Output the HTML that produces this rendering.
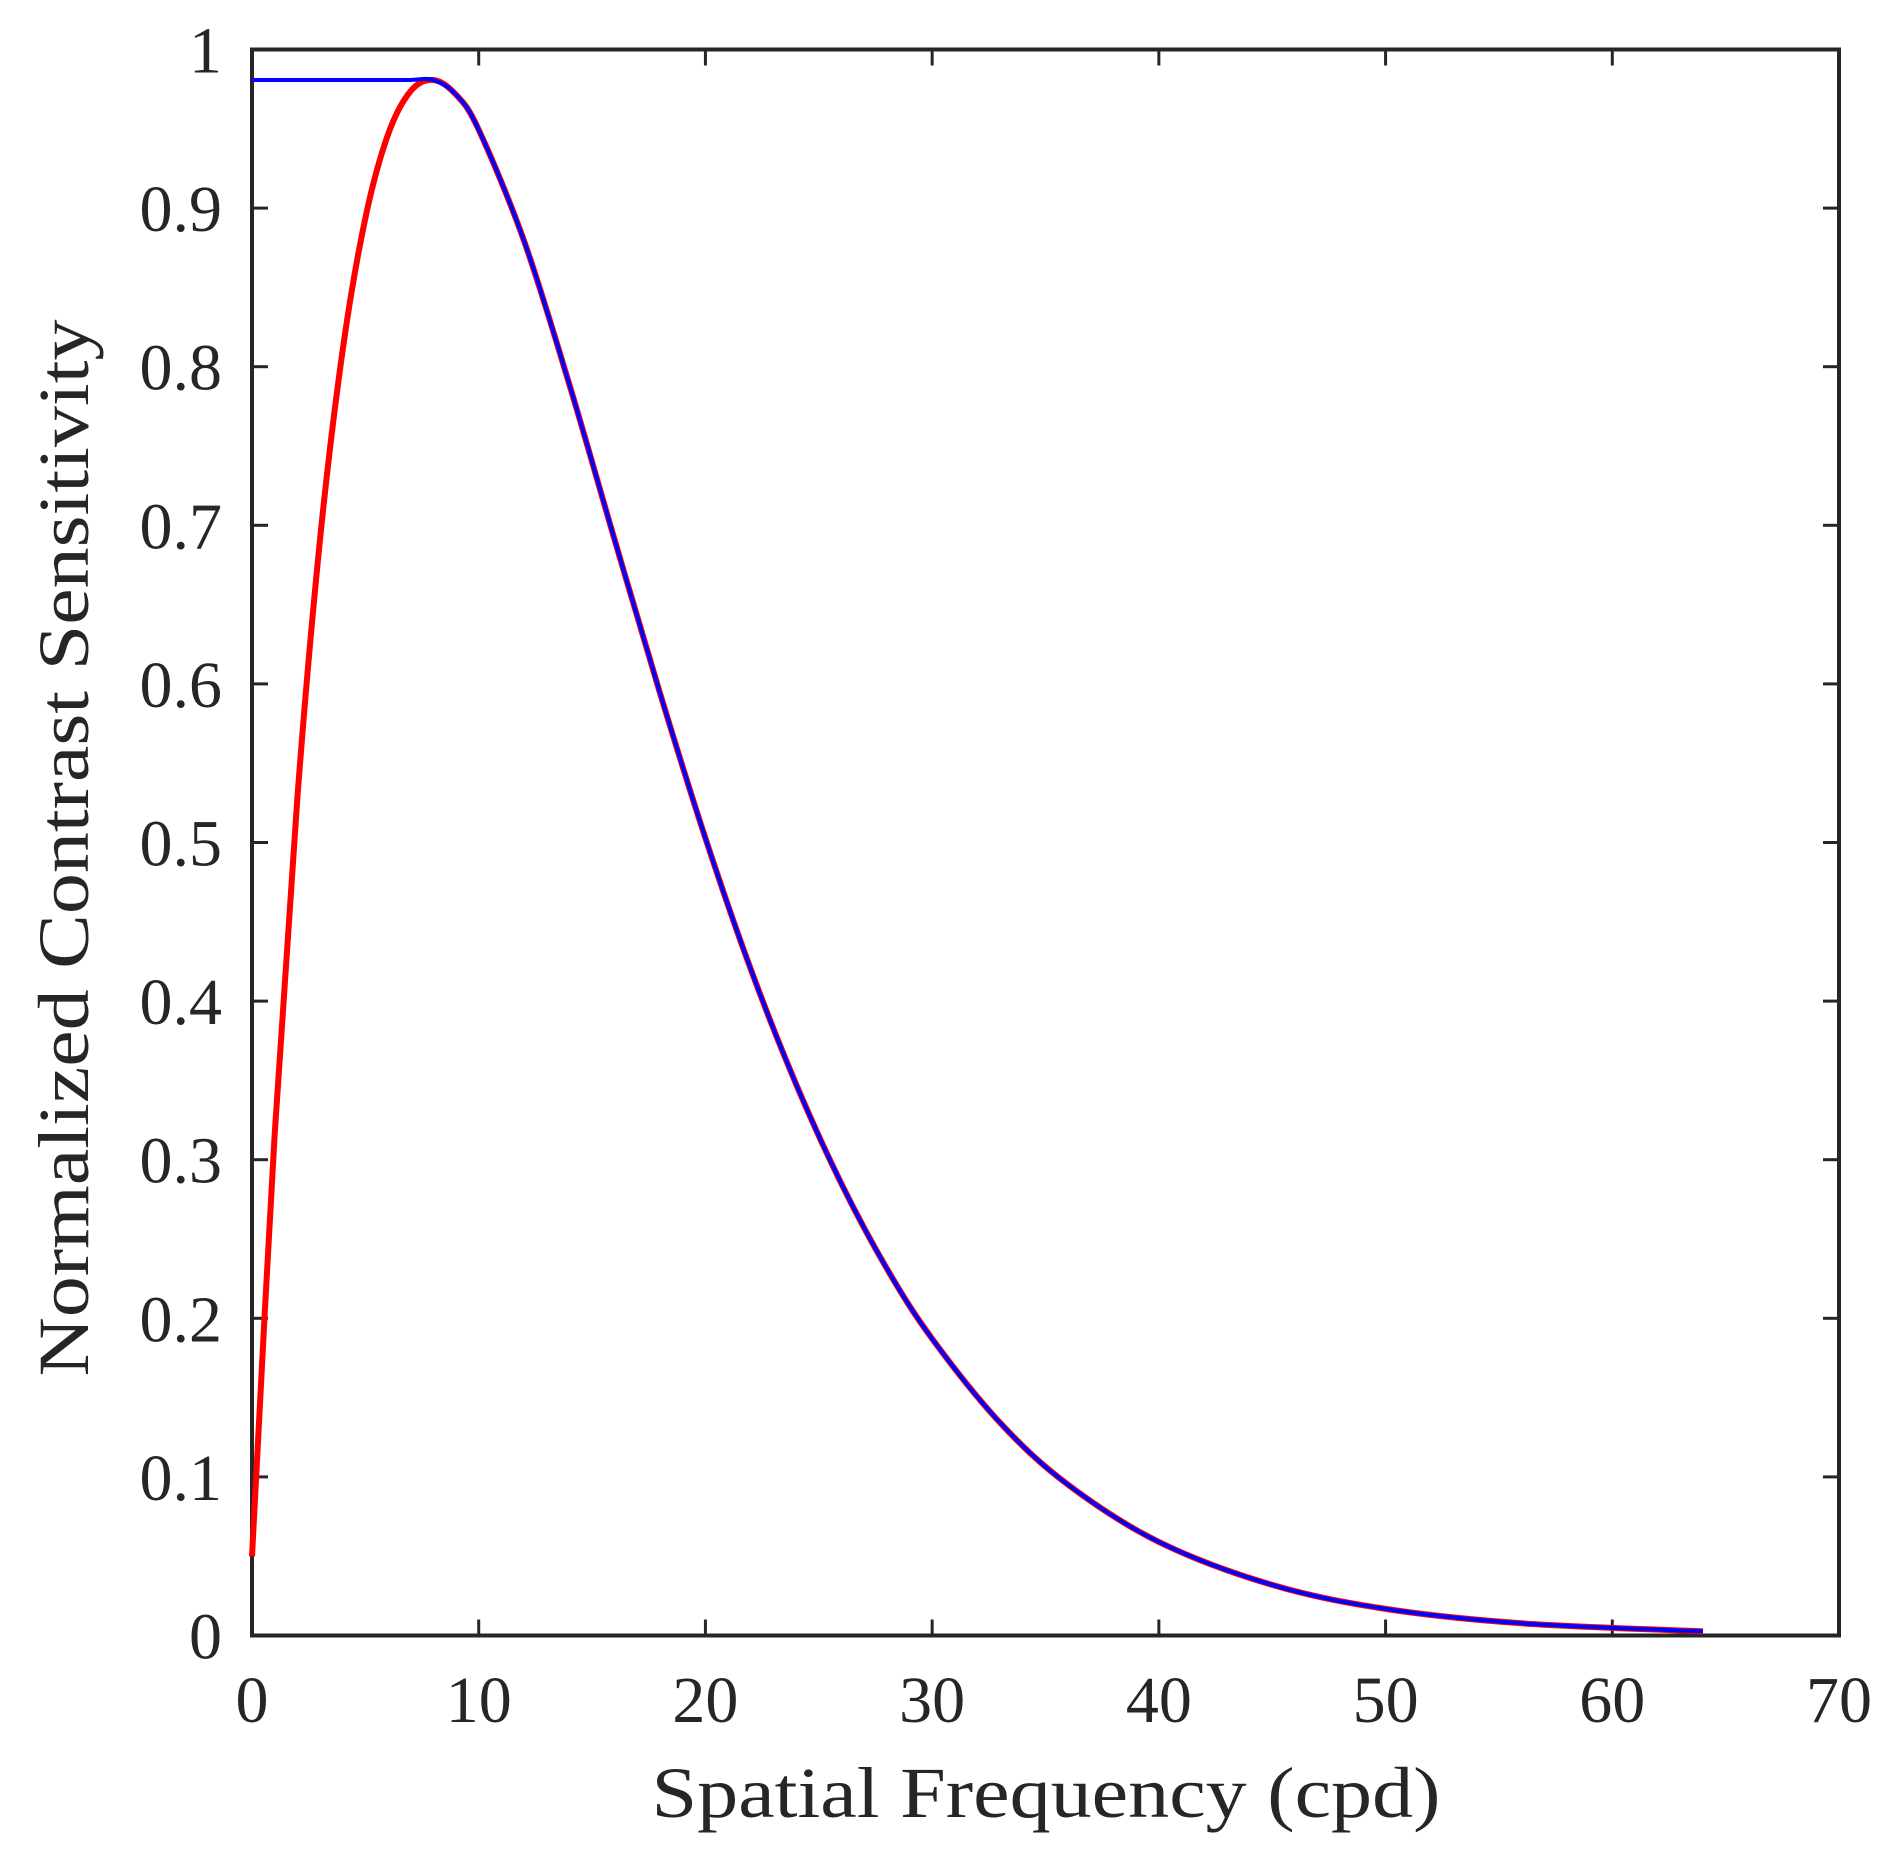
<!DOCTYPE html>
<html><head><meta charset="utf-8"><style>
html,body{margin:0;padding:0;background:#fff;}
svg{display:block;}
text{font-family:"Liberation Serif",serif;fill:#262626;}
</style></head><body>
<svg id="chart" width="1904" height="1852" viewBox="0 0 1904 1852" xmlns="http://www.w3.org/2000/svg">
<rect width="1904" height="1852" fill="#fff"/>
<g id="axes"></g>
<g id="series"></g>
<text x="1046" y="1817" text-anchor="middle" font-size="72" textLength="789" lengthAdjust="spacingAndGlyphs">Spatial Frequency (cpd)</text>
<text transform="translate(88,848) rotate(-90)" text-anchor="middle" font-size="72" textLength="1057" lengthAdjust="spacingAndGlyphs">Normalized Contrast Sensitivity</text>
</svg>
<script>
const freq = [0,1,2,3,4,5,6,7,8,9,10,12,14,16,18,20,22,24,26,28,30,33,36,40,45,50,56,64];
const redVals = [0.0499,0.316,0.528,0.691,0.8105,0.8937,0.9464,0.9738,0.9808,0.9715,0.9494,0.8793,0.7887,0.6906,0.594,0.5027,0.4201,0.3476,0.2848,0.2314,0.1871,0.1341,0.095,0.059,0.0319,0.0168,0.0077,0.0026];
const blueVals = [0.9808,0.9808,0.9808,0.9808,0.9808,0.9808,0.9808,0.9808,0.9808,0.9715,0.9494,0.8793,0.7887,0.6906,0.594,0.5027,0.4201,0.3476,0.2848,0.2314,0.1871,0.1341,0.095,0.059,0.0319,0.0168,0.0077,0.0026];
const xTicks = [0,10,20,30,40,50,60,70];
const yTicks = [0,0.1,0.2,0.3,0.4,0.5,0.6,0.7,0.8,0.9,1];
const yTickLabels = ["0","0.1","0.2","0.3","0.4","0.5","0.6","0.7","0.8","0.9","1"];

const L=252,R=1839,T=49.5,B=1635.5;
const xS=v=>L+(v-0)/(70-0)*(R-L);
const yS=v=>B-(v-0)/(1-0)*(B-T);
const NS="http://www.w3.org/2000/svg";
const axes=document.getElementById('axes'), series=document.getElementById('series');
function mk(tag,attrs,parent){const e=document.createElementNS(NS,tag);for(const k in attrs)e.setAttribute(k,attrs[k]);parent.appendChild(e);return e;}

xTicks.forEach((t,i)=>{
  const x=xS(t);
  if(t>0&&t<70){
    const a=mk('line',{x1:x,x2:x,y1:B,y2:B-16,stroke:'#262626','stroke-width':3},axes);
    
    
    const b=mk('line',{x1:x,x2:x,y1:T,y2:T+16,stroke:'#262626','stroke-width':3},axes);
    
    
  }
  const tx=mk('text',{x:x,y:1722,'text-anchor':'middle','font-size':66},axes);
  tx.textContent=String(t);
  
  
});
yTicks.forEach((t,i)=>{
  const y=yS(t);
  if(t>0&&t<1){
    const a=mk('line',{x1:L,x2:L+16,y1:y,y2:y,stroke:'#262626','stroke-width':3},axes);
    
    
    const b=mk('line',{x1:R,x2:R-16,y1:y,y2:y,stroke:'#262626','stroke-width':3},axes);
    
    
  }
  const tx=mk('text',{x:222,y:y+23,'text-anchor':'end','font-size':66},axes);
  tx.textContent=yTickLabels[i];
  
  
});
const box=mk('rect',{x:L,y:T,width:R-L,height:B-T,fill:'none',stroke:'#262626','stroke-width':4},axes);



function pathFor(xs,ys){
  const p=xs.map((v,i)=>[xS(v),yS(ys[i])]);
  let d='M'+p[0][0]+','+p[0][1];
  for(let i=0;i<p.length-1;i++){
    const p0=p[i-1]||p[i],p1=p[i],p2=p[i+1],p3=p[i+2]||p[i+1];
    const c1=[p1[0]+(p2[0]-p0[0])/6,p1[1]+(p2[1]-p0[1])/6];
    const c2=[p2[0]-(p3[0]-p1[0])/6,p2[1]-(p3[1]-p1[1])/6];
    d+=' C'+c1+' '+c2+' '+p2;
  }
  return d;
}
const red=mk('path',{d:pathFor(freq,redVals),fill:'none',stroke:'#ff0000','stroke-width':6,'stroke-linejoin':'round'},series);


const blue=mk('path',{d:pathFor(freq,blueVals),fill:'none',stroke:'#0000ff','stroke-width':4,'stroke-linejoin':'round'},series);


</script>
</body></html>
